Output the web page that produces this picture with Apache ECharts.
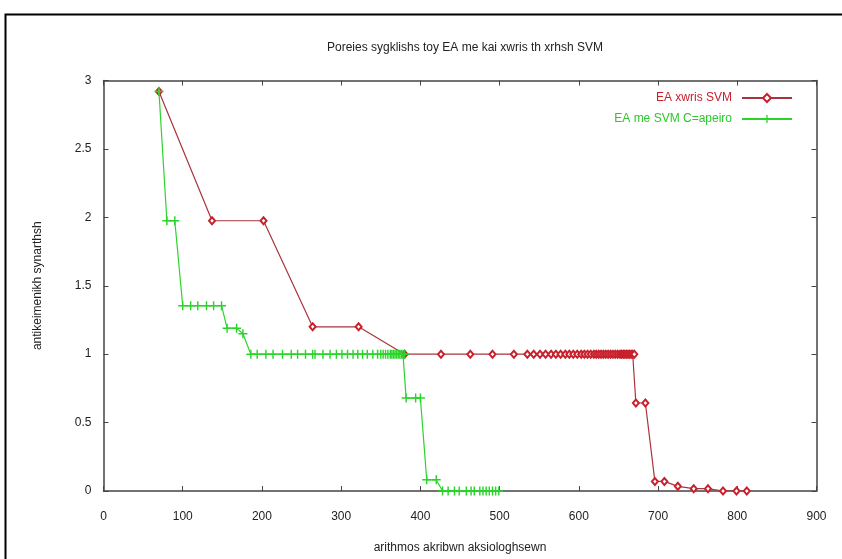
<!DOCTYPE html>
<html>
<head>
<meta charset="utf-8">
<script src="https://cdn.jsdelivr.net/npm/echarts@6/dist/echarts.min.js"></script>
<style>
  html, body { margin: 0; padding: 0; background: #fff; }
  #chart { width: 842px; height: 559px; }
</style>
</head>
<body>
<div id="chart"></div>
<script>
// Convergence of the EA without SVM
const redX = [70, 137, 202, 264, 322, 380, 426, 463, 491, 518, 535, 543, 551, 558, 565, 571, 577, 583, 588, 593, 598, 603, 607, 611, 615, 619, 622, 625, 628, 631, 634, 637, 640, 643, 646, 649, 652, 654, 656, 658, 660, 662, 664, 666, 668, 670, 672, 684, 696, 708, 725, 745, 763, 782, 799, 812];
const redY = [2.92, 1.975, 1.975, 1.2, 1.2, 1.0, 1.0, 1.0, 1.0, 1.0, 1.0, 1.0, 1.0, 1.0, 1.0, 1.0, 1.0, 1.0, 1.0, 1.0, 1.0, 1.0, 1.0, 1.0, 1.0, 1.0, 1.0, 1.0, 1.0, 1.0, 1.0, 1.0, 1.0, 1.0, 1.0, 1.0, 1.0, 1.0, 1.0, 1.0, 1.0, 1.0, 1.0, 1.0, 1.0, 1.0, 0.643, 0.643, 0.07, 0.07, 0.034, 0.017, 0.017, 0.0, 0.0, 0.0];

// Convergence of the EA with SVM, C = infinity
const greenX = [70, 80, 90, 100, 110, 119, 130, 139, 149, 156, 168, 176, 186, 194, 205, 214, 226, 237, 245, 255, 264, 267, 277, 286, 294, 301, 308, 315, 321, 327, 333, 340, 346, 350, 353, 356, 359, 362, 364, 366, 368, 370, 372, 374, 376, 378, 380, 382, 394, 400, 408, 420, 428, 435, 443, 449, 458, 464, 468, 475, 479, 483, 487, 491, 495, 499];
const greenY = [2.92, 1.975, 1.975, 1.354, 1.354, 1.354, 1.354, 1.354, 1.354, 1.19, 1.19, 1.149, 1.0, 1.0, 1.0, 1.0, 1.0, 1.0, 1.0, 1.0, 1.0, 1.0, 1.0, 1.0, 1.0, 1.0, 1.0, 1.0, 1.0, 1.0, 1.0, 1.0, 1.0, 1.0, 1.0, 1.0, 1.0, 1.0, 1.0, 1.0, 1.0, 1.0, 1.0, 1.0, 1.0, 1.0, 1.0, 0.679, 0.679, 0.679, 0.082, 0.082, 0.0, 0.0, 0.0, 0.0, 0.0, 0.0, 0.0, 0.0, 0.0, 0.0, 0.0, 0.0, 0.0, 0.0];

const xTicks = { min: 0, max: 900, interval: 100 };
const yTicks = { min: 0, max: 3, interval: 0.5 };

const titleText = 'Poreies sygklishs toy EA me kai xwris th xrhsh SVM';
const xName = 'arithmos akribwn aksiologhsewn';
const yName = 'antikeimenikh synarthsh';
const seriesNames = ['EA xwris SVM', 'EA me SVM C=apeiro'];

const RED = '#c8202c';
const RED_LINE = '#a8343c';
const GREEN = '#2bd42b';
const FONT = 'Liberation Sans, Arial, sans-serif';
const AXIS_COLOR = '#444';

const zip = (xs, ys) => xs.map((x, i) => [x, ys[i]]);
const plusPath = 'path://M4.2,0H5.8V4.2H10V5.8H5.8V10H4.2V5.8H0V4.2H4.2Z';

const boxAxis = {
  axisLine: { show: true, onZero: false, lineStyle: { color: AXIS_COLOR, width: 1.5 } },
  axisTick: { show: true, inside: true, length: 5, lineStyle: { color: AXIS_COLOR, width: 1 } },
  splitLine: { show: false }
};

const chart = echarts.init(document.getElementById('chart'), null, { renderer: 'canvas' });
chart.setOption({
  animation: false,
  backgroundColor: '#fff',
  textStyle: { fontFamily: FONT },
  title: {
    text: titleText,
    left: 460, top: 37, textAlign: 'center',
    textStyle: { fontSize: 12, fontWeight: 'normal', color: '#222', fontFamily: FONT }
  },
  graphic: [{
    type: 'rect', left: 3, top: 12, silent: true,
    shape: { width: 842, height: 562 },
    style: { fill: 'none', stroke: '#000', lineWidth: 2 }
  }],
  grid: { left: 103.5, right: 25.5, top: 80.5, bottom: 63.3, containLabel: false },
  legend: {
    orient: 'vertical', right: 44, top: 87, align: 'right',
    itemWidth: 50, itemHeight: 10, itemGap: 9,
    data: [
      { name: seriesNames[0], textStyle: { color: RED } },
      { name: seriesNames[1], textStyle: { color: '#2cc82c' } }
    ],
    textStyle: { fontSize: 12, fontFamily: FONT, padding: [0, 5, 0, 0] }
  },
  xAxis: [
    Object.assign({
      type: 'value', position: 'bottom', min: xTicks.min, max: xTicks.max, interval: xTicks.interval,
      name: xName, nameLocation: 'middle', nameGap: 51,
      nameTextStyle: { fontSize: 12, color: '#222', fontFamily: FONT },
      axisLabel: { fontSize: 12, color: '#222', margin: 20, fontFamily: FONT }
    }, boxAxis),
    Object.assign({
      type: 'value', position: 'top', min: xTicks.min, max: xTicks.max, interval: xTicks.interval,
      axisLabel: { show: false }
    }, boxAxis)
  ],
  yAxis: [
    Object.assign({
      type: 'value', position: 'left', min: yTicks.min, max: yTicks.max, interval: yTicks.interval,
      name: yName, nameLocation: 'middle', nameGap: 60, nameRotate: 90,
      nameTextStyle: { fontSize: 12, color: '#222', fontFamily: FONT },
      axisLabel: { fontSize: 12, color: '#222', margin: 12, fontFamily: FONT }
    }, boxAxis),
    Object.assign({
      type: 'value', position: 'right', min: yTicks.min, max: yTicks.max, interval: yTicks.interval,
      axisLabel: { show: false }
    }, boxAxis)
  ],
  series: [
    {
      name: seriesNames[0], type: 'line', xAxisIndex: 0, yAxisIndex: 0,
      data: zip(redX, redY),
      symbol: 'emptyDiamond', symbolSize: [6, 7], showAllSymbol: true,
      lineStyle: { color: RED_LINE, width: 1.2 },
      itemStyle: { color: RED, borderColor: RED, borderWidth: 1.2 },
      z: 2
    },
    {
      name: seriesNames[1], type: 'line', xAxisIndex: 0, yAxisIndex: 0,
      data: zip(greenX, greenY),
      symbol: plusPath, symbolSize: 9, showAllSymbol: true,
      lineStyle: { color: GREEN, width: 1.2 },
      itemStyle: { color: GREEN },
      z: 3
    }
  ]
});
</script>
</body>
</html>
